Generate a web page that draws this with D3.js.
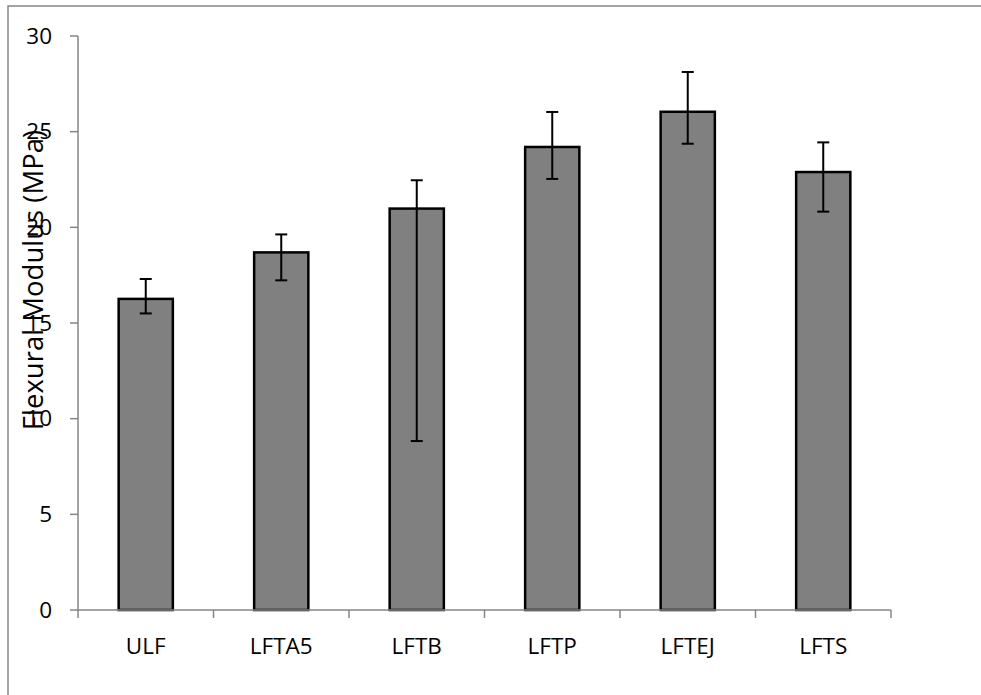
<!DOCTYPE html>
<html><head><meta charset="utf-8">
<script src="https://cdn.jsdelivr.net/npm/d3@7"></script>
<style>html,body{margin:0;padding:0;background:#fff;}svg{display:block;}</style>
</head><body>
<svg id="chart" width="981" height="695"></svg>
<script>
const categories = ["ULF", "LFTA5", "LFTB", "LFTP", "LFTEJ", "LFTS"];
const values = [16.26, 18.69, 20.98, 24.2, 26.04, 22.89];
const errUpper = [17.3, 19.63, 22.46, 26.03, 28.12, 24.44];
const errLower = [15.5, 17.23, 8.83, 22.53, 24.37, 20.82];
const yTicks = [0, 5, 10, 15, 20, 25, 30];
const yTitle = "Flexural Modulus (MPa)";

const svg = d3.select("#chart");
const font = "'Open Sans', sans-serif";
const axisColor = "#868686";

// outer frame
svg.append("rect").attr("x", 8).attr("y", 6).attr("width", 1000).attr("height", 720)
  .attr("fill", "none").attr("stroke", axisColor).attr("stroke-width", 1.5);

const x = d3.scaleBand().domain(categories).range([78, 891]).paddingInner(0.6).paddingOuter(0.3);
const xb = d3.scaleBand().domain(categories).range([78, 891]);
const y = d3.scaleLinear().domain([0, 30]).range([610, 36]);

// y axis
svg.append("line").attr("x1", 78).attr("x2", 78).attr("y1", y(30)).attr("y2", y(0))
  .attr("stroke", axisColor).attr("stroke-width", 1.5);
svg.selectAll(".ytick").data(yTicks).enter().append("line")
  .attr("x1", 70).attr("x2", 78).attr("y1", d => y(d)).attr("y2", d => y(d))
  .attr("stroke", axisColor).attr("stroke-width", 1.5);
svg.selectAll(".ylab").data(yTicks).enter().append("text")
  .attr("x", 52).attr("y", d => y(d)).attr("dy", "0.34em").attr("text-anchor", "end")
  .attr("font-family", font).attr("font-size", 22.5).attr("fill", "#000").text(d => d);

// bars
svg.selectAll(".bar").data(categories).enter().append("rect")
  .attr("x", d => x(d)).attr("width", x.bandwidth())
  .attr("y", (d, i) => y(values[i])).attr("height", (d, i) => y(0) - y(values[i]))
  .attr("fill", "#808080").attr("stroke", "#000").attr("stroke-width", 2.5);

// x axis
svg.append("line").attr("x1", 78).attr("x2", 891).attr("y1", y(0)).attr("y2", y(0))
  .attr("stroke", axisColor).attr("stroke-width", 1.5);
const bounds = categories.map(c => xb(c)).concat([891]);
svg.selectAll(".xtick").data(bounds).enter().append("line")
  .attr("x1", d => d).attr("x2", d => d).attr("y1", y(0)).attr("y2", y(0) + 8)
  .attr("stroke", axisColor).attr("stroke-width", 1.5);
svg.selectAll(".xlab").data(categories).enter().append("text")
  .attr("x", d => xb(d) + xb.bandwidth() / 2).attr("y", 654).attr("text-anchor", "middle")
  .attr("font-family", font).attr("font-size", 22.5).attr("fill", "#000").text(d => d);

// error bars
const cx = d => x(d) + x.bandwidth() / 2;
svg.selectAll(".err").data(categories).enter().append("line")
  .attr("x1", cx).attr("x2", cx).attr("y1", (d, i) => y(errUpper[i])).attr("y2", (d, i) => y(errLower[i]))
  .attr("stroke", "#000").attr("stroke-width", 2);
[errUpper, errLower].forEach(arr => {
  svg.selectAll(null).data(categories).enter().append("line")
    .attr("x1", d => cx(d) - 6).attr("x2", d => cx(d) + 6)
    .attr("y1", (d, i) => y(arr[i])).attr("y2", (d, i) => y(arr[i]))
    .attr("stroke", "#000").attr("stroke-width", 2);
});

// y title (drawn on top, overlapping ticks as in reference)
svg.append("text").attr("transform", "translate(43,280) rotate(-90)")
  .attr("text-anchor", "middle").attr("font-family", font).attr("font-size", 27.5)
  .attr("fill", "#000").text(yTitle);
</script>
</body></html>
